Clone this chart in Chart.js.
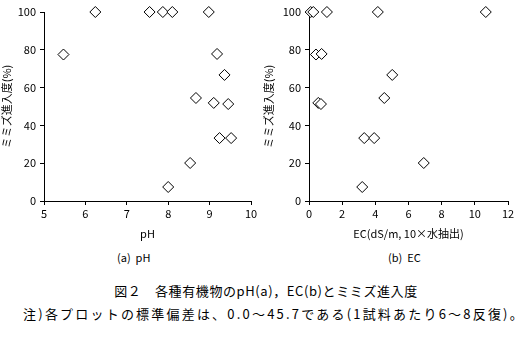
<!DOCTYPE html>
<html>
<head>
<meta charset="utf-8">
<script src="https://cdn.jsdelivr.net/npm/chart.js@4"></script>
<style>
body { margin: 0; background: #fff; width: 532px; height: 357px; position: relative; overflow: hidden; font-family: "Noto Sans CJK JP", sans-serif; }
.box { position: absolute; top: 0; }
.txt { position: absolute; color: #000; white-space: nowrap; font-size: 11px; }
.cap { position: absolute; left: 0; width: 532px; text-align: center; color: #000; white-space: nowrap; font-size: 13px; }
</style>
</head>
<body>
<div class="box" style="left:0;width:262px;height:243px;"><canvas id="chartPH"></canvas></div>
<div class="box" style="left:262px;width:270px;height:243px;"><canvas id="chartEC"></canvas></div>
<div class="txt" style="left:117px;top:249px;">(a)&nbsp;&nbsp;pH</div>
<div class="txt" style="left:388px;top:249px;">(b)&nbsp;&nbsp;EC</div>
<div class="cap" style="top:281px;letter-spacing:0.6px;">図２　各種有機物のpH(a)，EC(b)とミミズ進入度</div>
<div class="cap" style="top:304px;left:8px;letter-spacing:2.2px;">注)各プロットの標準偏差は、0.0～45.7である(1試料あたり6～8反復)。</div>
<script>
// ミミズ進入度 (%)
const shinnyu = [77.5, 100, 100, 100, 100, 100, 77.8, 66.7, 54.5, 51.9, 51.3, 33.3, 33.3, 20.1, 7.4];
const phValues = [5.47, 6.24, 7.55, 7.87, 8.10, 8.98, 9.18, 9.36, 8.67, 9.10, 9.45, 9.24, 9.52, 8.53, 8.00];
const ecValues = [0.42, 0.10, 0.26, 1.08, 4.15, 10.66, 0.76, 5.02, 4.54, 0.56, 0.72, 3.33, 3.93, 6.92, 3.21];
const yTitle = 'ミミズ進入度(%)';

const tickFont = { family: '"Noto Sans CJK JP", sans-serif', size: 11 };

function makeScatter(id, xs, xMin, xMax, xStep, xTitle, yWidth, padRight) {
    const ctx = document.getElementById(id).getContext('2d');
    return new Chart(ctx, {
        type: 'scatter',
        data: {
            datasets: [{
                data: xs.map((x, i) => ({ x: x, y: shinnyu[i] })),
                clip: false,
                pointStyle: 'rectRot',
                pointRadius: 5.5,
                pointBackgroundColor: '#ffffff',
                pointBorderColor: '#000000',
                pointBorderWidth: 1
            }]
        },
        options: {
            responsive: true,
            maintainAspectRatio: false,
            animation: false,
            layout: { padding: { top: 12, right: padRight, left: 0, bottom: 0 } },
            plugins: { legend: { display: false }, tooltip: { enabled: false } },
            scales: {
                x: {
                    min: xMin, max: xMax,
                    ticks: { stepSize: xStep, color: '#000', font: tickFont, padding: 2, maxRotation: 0 },
                    grid: { drawOnChartArea: false, drawTicks: true, tickLength: 4, color: '#000' },
                    border: { color: '#000', width: 1 },
                    title: { display: true, text: xTitle, color: '#000', font: tickFont, padding: { top: 0, bottom: 3 } },
                    afterFit: s => { s.height = 42; }
                },
                y: {
                    min: 0, max: 100,
                    ticks: { stepSize: 20, color: '#000', font: tickFont, padding: 4 },
                    grid: { drawOnChartArea: false, drawTicks: true, tickLength: 4, color: '#000' },
                    border: { color: '#000', width: 1 },
                    title: { display: true, text: yTitle, color: '#000', font: tickFont, padding: 0 },
                    afterFit: s => { s.width = yWidth; }
                }
            }
        }
    });
}

makeScatter('chartPH', phValues, 5, 10, 1, 'pH', 44, 11);
makeScatter('chartEC', ecValues, 0, 12, 2, 'EC(dS/m, 10×水抽出)', 47, 24);
</script>
</body>
</html>
